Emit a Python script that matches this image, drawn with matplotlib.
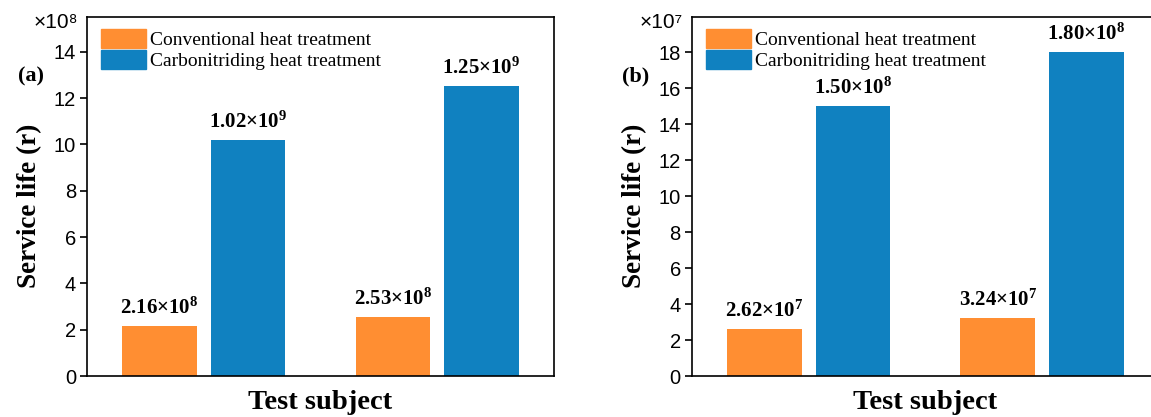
import numpy as np
import matplotlib
matplotlib.use('Agg')
import matplotlib.pyplot as plt
from matplotlib.patches import Patch

# data (service life, in units of the axis multiplier)
groups = [1, 2]
conv_a = [2.16, 2.53]        # x1e8
carb_a = [10.2, 12.5]        # x1e8
labels_conv_a = ['2.16', '2.53']
labels_carb_a = ['1.02', '1.25']
exp_conv_a = ['8', '8']
exp_carb_a = ['9', '9']

conv_b = [2.62, 3.24]        # x1e7
carb_b = [15.0, 18.0]        # x1e7
labels_conv_b = ['2.62', '3.24']
labels_carb_b = ['1.50', '1.80']
exp_conv_b = ['7', '7']
exp_carb_b = ['8', '8']

legend_names = ['Conventional heat treatment', 'Carbonitriding heat treatment']
c_orange = '#FF8E32'
c_blue = '#1081C0'

plt.rcParams['font.family'] = ['Liberation Sans', 'DejaVu Sans']
plt.rcParams['mathtext.fontset'] = 'custom'
plt.rcParams['mathtext.rm'] = 'Liberation Serif'
plt.rcParams['mathtext.bf'] = 'Liberation Serif:bold'

serif = ['Liberation Serif', 'DejaVu Serif']


def draw_panel(ax, conv, carb, lab_conv, lab_carb, e_conv, e_carb,
               ymax, yticks, mult, tag):
    x = np.array(groups, dtype=float)
    w = 0.32
    off = 0.19
    b1 = ax.bar(x - off, conv, w, color=c_orange)
    b2 = ax.bar(x + off, carb, w, color=c_blue)

    for bars, labs, exps in ((b1, lab_conv, e_conv), (b2, lab_carb, e_carb)):
        for rect, s, e in zip(bars, labs, exps):
            ax.annotate(r'$\mathbf{%s{\times}10^{%s}}$' % (s, e),
                        (rect.get_x() + rect.get_width() / 2, rect.get_height()),
                        xytext=(0, 6), textcoords='offset points',
                        ha='center', va='bottom', fontsize=15)

    ax.set_xlim(0.5, 2.5)
    ax.set_ylim(0, ymax)
    ax.set_yticks(yticks)
    ax.set_xticks([])
    ax.tick_params(axis='y', direction='out', length=5, width=1.2,
                   labelsize=14.5, pad=3)
    for sp in ax.spines.values():
        sp.set_linewidth(1.2)

    ax.set_xlabel('Test subject', family=serif, fontweight='bold',
                  fontsize=20.5, labelpad=10)
    ax.set_ylabel('Service life (r)', family=serif, fontweight='bold',
                  fontsize=19.5)
    ax.yaxis.set_label_coords(-0.097, 0.475)

    ax.text(-0.02, 0.985, '×10' + mult, transform=ax.transAxes,
            ha='right', va='center', fontsize=15)
    ax.text(-0.12, 0.835, tag, transform=ax.transAxes, family=serif,
            fontweight='bold', fontsize=16, ha='center', va='center')

    handles = [Patch(color=c_orange), Patch(color=c_blue)]
    ax.legend(handles, legend_names, loc='upper left', frameon=False,
              prop={'family': serif, 'size': 14},
              handlelength=2.3, handleheight=1.15, labelspacing=0.05,
              handletextpad=0.2, borderaxespad=0.2,
              bbox_to_anchor=(0.005, 1.0))


fig = plt.figure(figsize=(11.51, 4.17), dpi=100)
ax1 = fig.add_axes([0.0756, 0.0983, 0.4057, 0.861])
ax2 = fig.add_axes([0.6012, 0.0983, 0.4057, 0.861])

draw_panel(ax1, conv_a, carb_a, labels_conv_a, labels_carb_a,
           exp_conv_a, exp_carb_a, 15.5, range(0, 15, 2), '⁸', '(a)')
draw_panel(ax2, conv_b, carb_b, labels_conv_b, labels_carb_b,
           exp_conv_b, exp_carb_b, 19.95, range(0, 19, 2), '⁷', '(b)')

fig.savefig('out.png', dpi=100)
